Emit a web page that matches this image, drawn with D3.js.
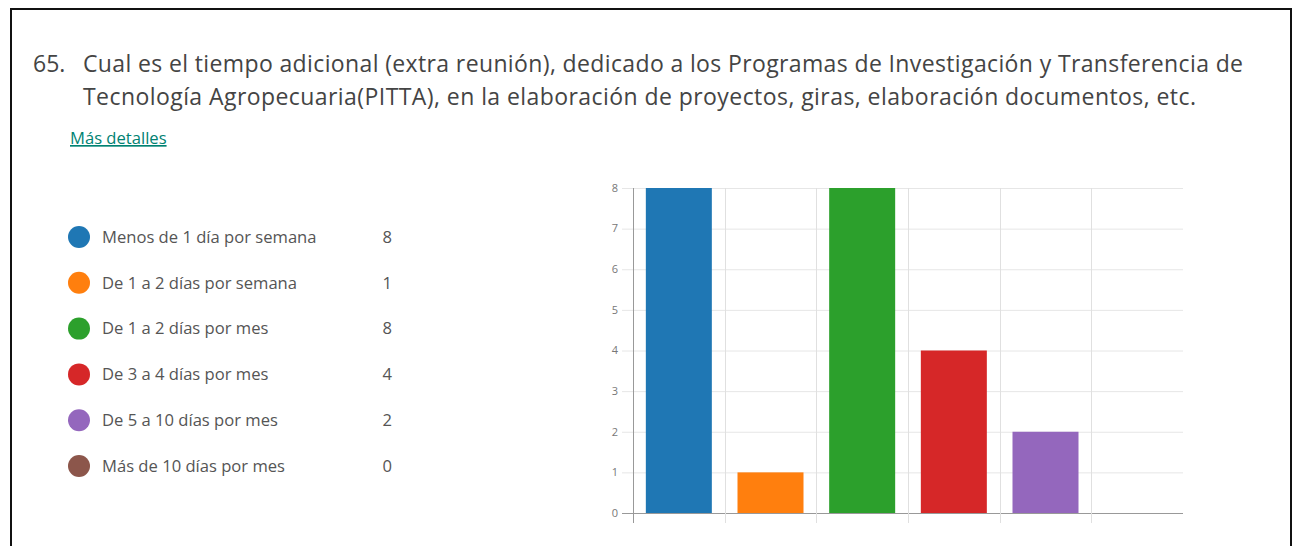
<!DOCTYPE html>
<html>
<head>
<meta charset="utf-8">
<script src="https://cdn.jsdelivr.net/npm/d3@7"></script>
<style>
  body { margin: 0; background: #fff; }
  svg { display: block; }
  .title { font: 23px "Open Sans", sans-serif; fill: #444; }
  .link { font: 16.6px "Open Sans", sans-serif; fill: #008272; text-decoration: underline; }
  .legend text { font: 16.6px "Open Sans", sans-serif; fill: #555; }
  .axis text { font: 11px "Open Sans", sans-serif; fill: #777; }
</style>
</head>
<body>
<svg id="chart" width="1293" height="546"></svg>
<script>
const categories = [
  'Menos de 1 día por semana',
  'De 1 a 2 días por semana',
  'De 1 a 2 días por mes',
  'De 3 a 4 días por mes',
  'De 5 a 10 días por mes',
  'Más de 10 días por mes'
];
const counts = [8, 1, 8, 4, 2, 0];
const colors = ['#1f77b4', '#ff7f0e', '#2ca02c', '#d62728', '#9467bd', '#8c564b'];
const yTicks = [0, 1, 2, 3, 4, 5, 6, 7, 8];
const titleLines = [
  'Cual es el tiempo adicional (extra reunión), dedicado a los Programas de Investigación y Transferencia de',
  'Tecnología Agropecuaria(PITTA), en la elaboración de proyectos, giras, elaboración documentos, etc.'
];
const titleWidths = [1160, 1113];

const svg = d3.select('#chart');

// frame
svg.append('path')
  .attr('d', 'M11,546V9H1291V546')
  .attr('fill', 'none')
  .attr('stroke', '#111')
  .attr('stroke-width', 2);

// title
svg.append('text').attr('class', 'title').attr('x', 33).attr('y', 72).text('65.');
svg.selectAll('text.tl')
  .data(titleLines)
  .enter()
  .append('text')
  .attr('class', 'title tl')
  .attr('x', 83)
  .attr('y', (d, i) => 72 + i * 33)
  .attr('textLength', (d, i) => titleWidths[i])
  .attr('lengthAdjust', 'spacing')
  .text(d => d);

svg.append('text').attr('class', 'link').attr('x', 70).attr('y', 144).text('Más detalles');

// legend
const leg = svg.append('g').attr('class', 'legend');
const ly = d3.scalePoint().domain(categories).range([237, 466]);
const row = leg.selectAll('g')
  .data(categories)
  .enter()
  .append('g')
  .attr('transform', d => 'translate(0,' + ly(d) + ')');
row.append('circle').attr('cx', 79).attr('r', 11).attr('fill', (d, i) => colors[i]);
row.append('text').attr('x', 102).attr('dy', '0.35em').text(d => d);
row.append('text').attr('x', 392).attr('dy', '0.35em').attr('text-anchor', 'end').text((d, i) => counts[i]);

// bar chart
const MARGIN = { left: 633, right: 1183, top: 188, bottom: 513 };
const x = d3.scaleBand().domain(categories).range([MARGIN.left, MARGIN.right]).paddingInner(0.28).paddingOuter(0.14);
const y = d3.scaleLinear().domain([0, 8]).range([MARGIN.bottom, MARGIN.top]);
const step = x.step();

const g = svg.append('g');

// horizontal grid
g.selectAll('line.hg')
  .data(yTicks)
  .enter()
  .append('line')
  .attr('x1', MARGIN.left - 11)
  .attr('x2', MARGIN.right)
  .attr('y1', d => y(d) + 0.5)
  .attr('y2', d => y(d) + 0.5)
  .attr('stroke', d => d === 0 ? '#999' : '#e6e6e6');

// vertical grid
const vx = d3.range(categories.length).map(i => MARGIN.left + i * step);
g.selectAll('line.vg')
  .data(vx)
  .enter()
  .append('line')
  .attr('x1', d => Math.round(d) + 0.5)
  .attr('x2', d => Math.round(d) + 0.5)
  .attr('y1', MARGIN.top)
  .attr('y2', MARGIN.bottom + 10)
  .attr('stroke', (d, i) => i === 0 ? '#999' : '#e0e0e0');

// bars
g.selectAll('rect')
  .data(categories)
  .enter()
  .append('rect')
  .attr('x', d => x(d))
  .attr('width', x.bandwidth())
  .attr('y', (d, i) => y(counts[i]))
  .attr('height', (d, i) => y(0) - y(counts[i]))
  .attr('fill', (d, i) => colors[i]);

// y labels
g.append('g')
  .attr('class', 'axis')
  .selectAll('text')
  .data(yTicks)
  .enter()
  .append('text')
  .attr('x', 618)
  .attr('y', d => y(d))
  .attr('dy', '0.35em')
  .attr('text-anchor', 'end')
  .text(d => d);
</script>
</body>
</html>
